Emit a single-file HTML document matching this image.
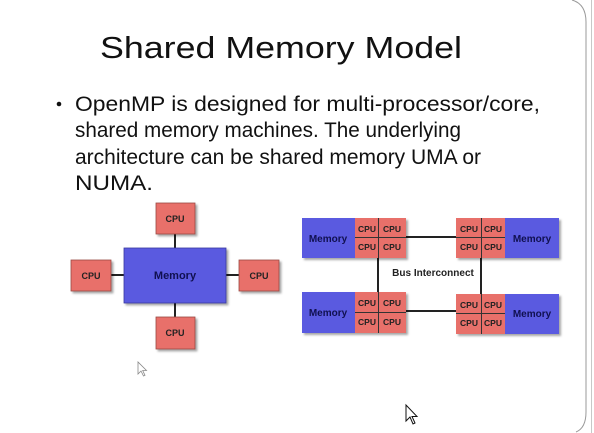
<!DOCTYPE html>
<html><head><style>
html,body{margin:0;padding:0;background:#fff;width:594px;height:433px;overflow:hidden}
svg{display:block}
text{font-family:"Liberation Sans",Arial,sans-serif}
</style></head><body>
<svg width="594" height="433" viewBox="0 0 594 433">
<defs>
<filter id="sh" x="-10%" y="-10%" width="130%" height="130%"><feDropShadow dx="2" dy="2" stdDeviation="1" flood-color="#000" flood-opacity="0.35"/></filter>
</defs>
<rect width="594" height="433" fill="#fff"/>
<path d="M572 0 Q586 4 586 22 L586 412 Q586 428 576 432" fill="none" stroke="#9a9a9a" stroke-width="1"/>
<line x1="591.5" y1="0" x2="591.5" y2="433" stroke="#c8c8c8" stroke-width="1"/>

<text x="100" y="58" font-size="31" textLength="362" lengthAdjust="spacingAndGlyphs" fill="#111">Shared Memory Model</text>
<circle cx="59" cy="104" r="2.3" fill="#111"/>
<g font-size="21" fill="#111">
<text x="75" y="111" textLength="465" lengthAdjust="spacingAndGlyphs">OpenMP is designed for multi-processor/core,</text>
<text x="75" y="137" textLength="386" lengthAdjust="spacingAndGlyphs">shared memory machines. The underlying</text>
<text x="75" y="164" textLength="406" lengthAdjust="spacingAndGlyphs">architecture can be shared memory UMA or</text>
<text x="75" y="190" textLength="78" lengthAdjust="spacingAndGlyphs">NUMA.</text>
</g>

<g stroke="#222" stroke-width="2">
<line x1="175" y1="234" x2="175" y2="248"/>
<line x1="175" y1="303" x2="175" y2="317"/>
<line x1="111" y1="275" x2="124" y2="275"/>
<line x1="226" y1="275" x2="239" y2="275"/>
</g>
<g filter="url(#sh)" stroke="#9a4a44" stroke-width="0.8">
<rect x="124" y="248" width="102" height="55" fill="#5a5ae0" stroke="#3a3aa0"/>
<rect x="156" y="203" width="39" height="31" fill="#e8706a"/>
<rect x="156" y="317" width="39" height="32" fill="#e8706a"/>
<rect x="71" y="260" width="40" height="31" fill="#e8706a"/>
<rect x="239" y="260" width="40" height="31" fill="#e8706a"/>
</g>
<g font-size="9" font-weight="bold" fill="#222" text-anchor="middle">
<text x="175" y="222">CPU</text>
<text x="175" y="336">CPU</text>
<text x="91" y="279">CPU</text>
<text x="259" y="279">CPU</text>
<text x="175" y="279" font-size="11" fill="#101050">Memory</text>
</g>

<g stroke="#222" stroke-width="2">
<line x1="406" y1="237" x2="456" y2="237"/>
<line x1="406" y1="311" x2="456" y2="311"/>
<line x1="378" y1="258" x2="378" y2="292"/>
<line x1="481" y1="258" x2="481" y2="294"/>
</g>
<text x="433" y="276" font-size="10" font-weight="bold" fill="#222" text-anchor="middle">Bus Interconnect</text>

<g filter="url(#sh)">
<rect x="302" y="218" width="104" height="40" fill="#5a5ae0"/>
<rect x="456" y="218" width="103" height="40" fill="#5a5ae0"/>
<rect x="302" y="292" width="104" height="41" fill="#5a5ae0"/>
<rect x="456" y="294" width="103" height="40" fill="#5a5ae0"/>
</g>
<g fill="#e8706a">
<rect x="355" y="218" width="51" height="40"/>
<rect x="456" y="218" width="49" height="40"/>
<rect x="355" y="292" width="51" height="41"/>
<rect x="456" y="294" width="49" height="40"/>
</g>
<g stroke="#333" stroke-width="1">
<line x1="378.5" y1="218" x2="378.5" y2="258"/><line x1="355" y1="237.5" x2="406" y2="237.5"/>
<line x1="481.5" y1="218" x2="481.5" y2="258"/><line x1="456" y1="237.5" x2="505" y2="237.5"/>
<line x1="378.5" y1="292" x2="378.5" y2="333"/><line x1="355" y1="312.5" x2="406" y2="312.5"/>
<line x1="481.5" y1="294" x2="481.5" y2="334"/><line x1="456" y1="313.5" x2="505" y2="313.5"/>
</g>
<g font-size="8.5" font-weight="bold" fill="#222" text-anchor="middle">
<text x="367" y="232">CPU</text><text x="392" y="232">CPU</text>
<text x="367" y="250">CPU</text><text x="392" y="250">CPU</text>
<text x="469" y="232">CPU</text><text x="493" y="232">CPU</text>
<text x="469" y="250">CPU</text><text x="493" y="250">CPU</text>
<text x="367" y="306">CPU</text><text x="392" y="306">CPU</text>
<text x="367" y="325">CPU</text><text x="392" y="325">CPU</text>
<text x="469" y="308">CPU</text><text x="493" y="308">CPU</text>
<text x="469" y="326">CPU</text><text x="493" y="326">CPU</text>
</g>
<g font-size="10" font-weight="bold" fill="#101050" text-anchor="middle">
<text x="328" y="242">Memory</text>
<text x="532" y="242">Memory</text>
<text x="328" y="316">Memory</text>
<text x="532" y="317">Memory</text>
</g>

<path d="M138 362 L138 374 L141 371 L143.5 376 L145 375.3 L142.7 370.5 L146.5 370.5 Z" fill="#fff" stroke="#888" stroke-width="0.8"/>
<path d="M406 405 L406 421 L410 417 L413 424 L415 423 L412 416.5 L417 416.5 Z" fill="#fff" stroke="#111" stroke-width="1"/>
</svg>
</body></html>
